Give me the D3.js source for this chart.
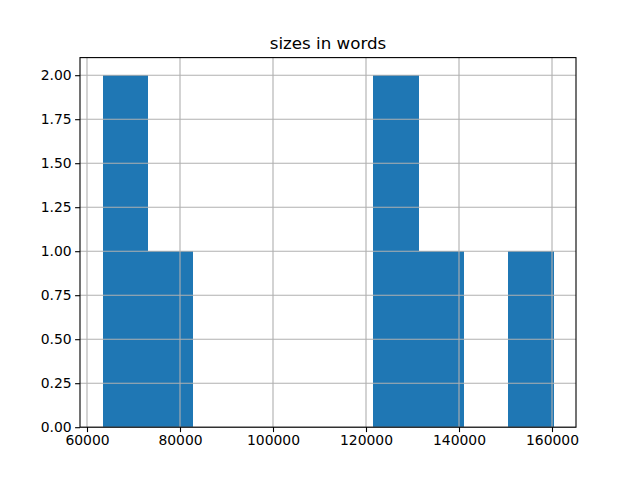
<!DOCTYPE html>
<html><head><meta charset="utf-8">
<script src="https://d3js.org/d3.v7.min.js"></script>
<style>body{margin:0;background:#fff}svg{display:block}text{font-family:"DejaVu Sans",sans-serif}</style>
</head><body><svg id="c" width="640" height="480"></svg>
<script>
const title = "sizes in words";
const sizes = [63343, 70500, 76000, 123500, 129000, 136000, 160312];
const nBins = 10;
const xTicks = [60000, 80000, 100000, 120000, 140000, 160000];
const yTicks = [0, 0.25, 0.5, 0.75, 1.0, 1.25, 1.5, 1.75, 2.0];

const svg = d3.select("#c");
const L = 80, R = 576, T = 57.6, B = 427.2;
const lo = d3.min(sizes), hi = d3.max(sizes);
const w = (hi - lo) / nBins;
const edges = d3.range(nBins + 1).map(i => lo + i * w);
const counts = new Array(nBins).fill(0);
sizes.forEach(v => { let i = Math.floor((v - lo) / w); if (i >= nBins) i = nBins - 1; counts[i]++; });
const bins = counts.map((c, i) => ({x0: edges[i], x1: edges[i + 1], c}));
const pad = 0.05 * (hi - lo);
const x = d3.scaleLinear().domain([lo - pad, hi + pad]).range([L, R]);
const yMax = d3.max(counts) * 1.05;
const y = d3.scaleLinear().domain([0, yMax]).range([B, T]);

svg.append("g").attr("shape-rendering", "crispEdges")
  .selectAll("rect").data(bins.filter(b => b.c > 0)).join("rect")
  .attr("x", d => x(d.x0)).attr("width", d => x(d.x1) - x(d.x0) + 0.5)
  .attr("y", d => y(d.c)).attr("height", d => y(0) - y(d.c))
  .attr("fill", "#1f77b4");

const grid = svg.append("g").attr("stroke", "#b0b0b0").attr("stroke-width", 1.1);
xTicks.forEach(t => grid.append("line").attr("x1", x(t)).attr("x2", x(t)).attr("y1", T).attr("y2", B));
yTicks.forEach(t => grid.append("line").attr("y1", y(t)).attr("y2", y(t)).attr("x1", L).attr("x2", R));

const xa = svg.append("g").attr("transform", `translate(0,${B})`)
  .call(d3.axisBottom(x).tickValues(xTicks).tickFormat(d3.format("d")).tickSizeOuter(0).tickSize(4.9).tickPadding(3.5));
const ya = svg.append("g").attr("transform", `translate(${L},0)`)
  .call(d3.axisLeft(y).tickValues(yTicks).tickFormat(d3.format(".2f")).tickSizeOuter(0).tickSize(4.9).tickPadding(3.5));
[xa, ya].forEach(a => {
  a.select(".domain").remove();
  a.selectAll("line").attr("stroke", "#000").attr("stroke-width", 1.1);
  a.selectAll("text").attr("font-size", 13.9).attr("fill", "#000").attr("font-family", "DejaVu Sans");
});

svg.append("rect").attr("x", L).attr("y", T).attr("width", R - L).attr("height", B - T)
  .attr("fill", "none").attr("stroke", "#000").attr("stroke-width", 1.1);

svg.append("text").attr("x", (L + R) / 2).attr("y", 49).attr("text-anchor", "middle")
  .attr("font-size", 16.7).attr("fill", "#000").text(title);
</script></body></html>
